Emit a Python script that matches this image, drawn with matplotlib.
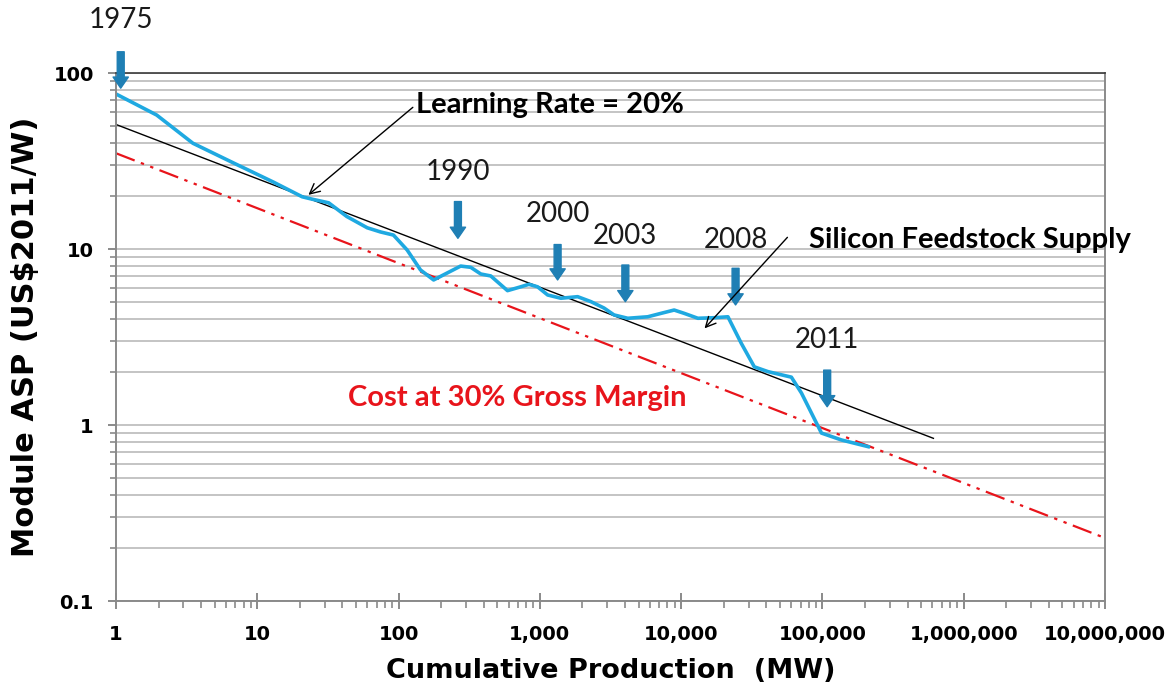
import numpy as np
import matplotlib
matplotlib.use('Agg')
import matplotlib.pyplot as plt
from matplotlib.ticker import FixedLocator, LogLocator, NullFormatter

## DATA

# module ASP history (cumulative MW, US$2011/W)
cum_mw = [1, 1.94, 3.5, 6.8, 13, 20.8, 24.4, 32, 43, 60, 74.5, 92, 115, 143, 177,
          221, 275, 324, 382, 449, 590, 733, 836, 963, 1135, 1409, 1850, 2300,
          2844, 3350, 4190, 5800, 7210, 8920, 10500, 13130, 17140, 21430, 26650,
          32950, 41200, 60260, 71000, 98400, 136400, 211000]
asp = [76, 57.7, 39.9, 30.8, 24.0, 19.8, 19.2, 18.3, 15.3, 13.2, 12.5, 12.0, 9.87,
       7.6, 6.67, 7.31, 8.0, 7.87, 7.21, 7.03, 5.8, 6.1, 6.3, 6.1, 5.48, 5.25, 5.36,
       5.02, 4.62, 4.22, 4.04, 4.12, 4.31, 4.5, 4.31, 4.04, 4.07, 4.12, 2.91, 2.14,
       2.01, 1.87, 1.52, 0.90, 0.822, 0.753]

# 20% learning rate trend line (end points)
lr_x = [1, 610000]
lr_y = [51, 0.84]

# cost at 30% gross margin (end points)
cost_x = [1, 1e7]
cost_y = [35, 0.228]

# year markers
years = ['1975', '1990', '2000', '2003', '2008', '2011']
year_x = [1.08, 263, 1335, 4027, 24270, 108000]
year_top = [132, 18.6, 10.6, 8.11, 7.77, 2.05]
year_tip = [82, 11.5, 6.67, 5.02, 4.81, 1.27]
year_label_y = [200, 27.4, 15.8, 11.9, 11.25, 3.04]

x_ticks = [1, 10, 100, 1000, 10000, 100000, 1000000, 10000000]
x_ticklabels = ['1', '10', '100', '1,000', '10,000', '100,000', '1,000,000', '10,000,000']
y_ticks = [0.1, 1, 10, 100]
y_ticklabels = ['0.1', '1', '10', '100']


## PLOT

fig = plt.figure(figsize=(11.67, 6.92), dpi=100)
ax = fig.add_axes([0.0994, 0.1315, 0.8475, 0.763])
ax.set_xscale('log')
ax.set_yscale('log')
ax.set_xlim(1, 1e7)
ax.set_ylim(0.1, 100)

# grid
ax.yaxis.set_minor_locator(LogLocator(base=10, subs=np.arange(2, 10)))
ax.yaxis.set_minor_formatter(NullFormatter())
ax.grid(True, which='both', axis='y', color='#c4c4c4', linewidth=1.4)
ax.set_axisbelow(True)

for s in ['left', 'bottom', 'right']:
    ax.spines[s].set_color('#8a8a8a')
    ax.spines[s].set_linewidth(1.4)
ax.spines['top'].set_color('#3a3a3a')
ax.spines['top'].set_linewidth(1.2)

ax.xaxis.set_major_locator(FixedLocator(x_ticks))
ax.set_xticklabels(x_ticklabels)
ax.xaxis.set_minor_locator(LogLocator(base=10, subs=np.arange(2, 10)))
ax.xaxis.set_minor_formatter(NullFormatter())
ax.yaxis.set_major_locator(FixedLocator(y_ticks))
ax.set_yticklabels(y_ticklabels)

ax.tick_params(axis='x', which='major', direction='inout', length=12, width=1.4,
               color='#8a8a8a', pad=11)
ax.tick_params(axis='x', which='minor', direction='out', length=5, width=1.2, color='#8a8a8a')
ax.tick_params(axis='y', which='major', direction='out', length=6, width=1.4,
               color='#8a8a8a', pad=10)
ax.tick_params(axis='y', which='minor', direction='out', length=4, width=1.2, color='#8a8a8a')
for lbl in ax.get_xticklabels() + ax.get_yticklabels():
    lbl.set_fontfamily('DejaVu Sans')
    lbl.set_fontweight('bold')
    lbl.set_fontsize(14)

# lines
ax.plot(cost_x, cost_y, color='#e8141b', linewidth=1.6,
        dashes=(9, 3, 1.5, 3, 1.5, 3))
ax.plot(lr_x, lr_y, color='black', linewidth=1.0)
ax.plot(cum_mw, asp, color='#1fa9e1', linewidth=2.6, solid_joinstyle='round')

# year arrows and labels
for yr, x, top, tip, ly in zip(years, year_x, year_top, year_tip, year_label_y):
    ax.annotate('', xy=(x, tip), xytext=(x, top),
                arrowprops=dict(arrowstyle='simple,head_width=1.1,head_length=0.8,tail_width=0.5',
                                color='#1f7fb4', mutation_scale=10, shrinkA=0, shrinkB=0),
                annotation_clip=False)
    ax.text(x, ly, yr, ha='center', va='center', fontsize=20, family='Lato',
            color='#1a1a1a', clip_on=False)

# callouts
ax.annotate('Learning Rate = 20%', xy=(23, 20.3), xytext=(132, 65.8),
            fontsize=21, fontweight='bold', family='Lato', va='center', ha='left',
            arrowprops=dict(arrowstyle='->', color='black', lw=1.0, shrinkA=0, shrinkB=0,
                            mutation_scale=18, relpos=(0, 0.5)))
ax.annotate('', xy=(14630, 3.54), xytext=(56500, 11.65),
            arrowprops=dict(arrowstyle='->', color='black', lw=1.0, shrinkA=0, shrinkB=0,
                            mutation_scale=18))
ax.text(80900, 11.25, 'Silicon Feedstock Supply', fontsize=21, fontweight='bold',
        family='Lato', va='center', ha='left', clip_on=False)
ax.text(43.5, 1.42, 'Cost at 30% Gross Margin', fontsize=21, fontweight='bold',
        family='Lato', va='center', ha='left', color='#e8141b')

ax.set_xlabel('Cumulative Production  (MW)', fontsize=19.5, fontweight='bold',
              family='DejaVu Sans', labelpad=10)
ax.set_ylabel('Module ASP (US$2011/W)', fontsize=22, fontweight='bold',
              family='DejaVu Sans', labelpad=10)

plt.savefig('out.png', dpi=100)
